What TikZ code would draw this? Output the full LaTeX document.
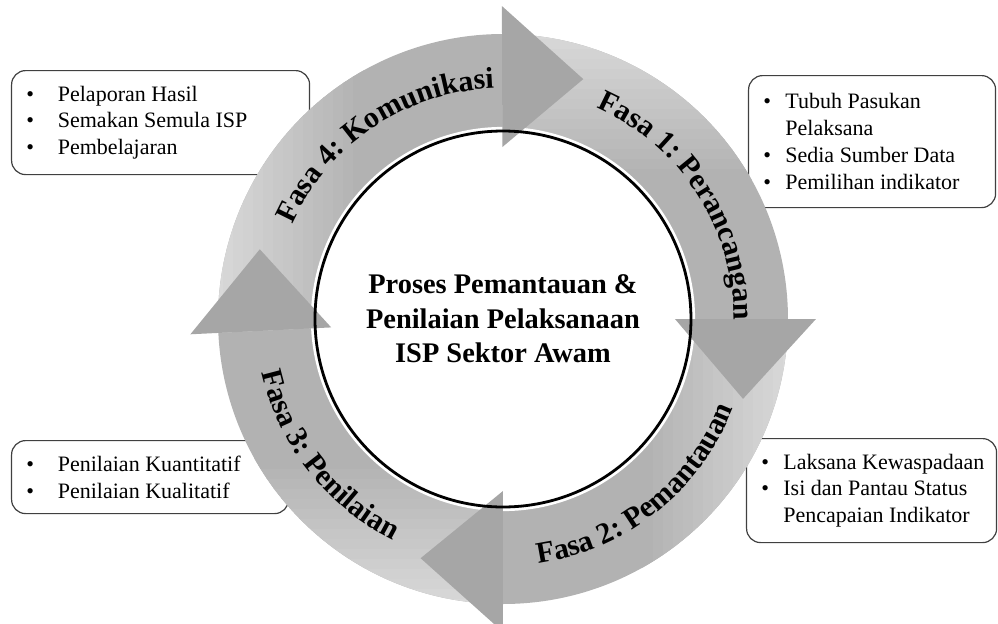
\documentclass[tikz,border=0pt]{standalone}
\usepackage{fontspec}
\setmainfont{Liberation Serif}
\usetikzlibrary{calc, decorations.text}

\colorlet{BadanCerah}{black!15}
\colorlet{BadanGelap}{black!30}
\colorlet{KepalaPanah}{black!35}
\colorlet{GarisKotak}{black!75}

\newcommand{\butir}[1]{\makebox[#1][l]{\textbullet}}
\newcommand{\hurufFasa}{\bfseries\fontsize{15}{18}\selectfont}

\begin{document}
\begin{tikzpicture}[x=0.5pt, y=0.5pt,
    kotak/.style={draw=GarisKotak, line width=0.6pt, fill=white, rounded corners=7pt, inner sep=0pt, anchor=north west},
    senarai/.style={align=left, inner sep=0pt, anchor=west, font=\fontsize{11}{13.4}\selectfont}]

    \useasboundingbox (-503,-304) rectangle (495,319);

    % Teks terpotong di atas
    \node [anchor=base west, inner sep=0pt, font=\fontsize{16}{19}\selectfont] (rujukan) at (-503,328) {dalam Rajah 1.};

    % Kotak penerangan
    \node [kotak, minimum width=149pt, minimum height=52pt] (kotakLapor) at (-492,249) {};
    \node [senarai] (senaraiLapor) at ([xshift=7.5pt]kotakLapor.west)
        {\butir{15.75pt}Pelaporan Hasil\\ \butir{15.75pt}Semakan Semula ISP\\ \butir{15.75pt}Pembelajaran};

    \node [kotak, minimum width=123.5pt, minimum height=66pt] (kotakRancang) at (245,244) {};
    \node [senarai] (senaraiRancang) at ([xshift=7.5pt]kotakRancang.west)
        {\butir{11pt}Tubuh Pasukan\\ \hspace*{11pt}Pelaksana\\ \butir{11pt}Sedia Sumber Data\\ \butir{11pt}Pemilihan indikator};

    \node [kotak, minimum width=138.5pt, minimum height=36.5pt] (kotakNilai) at (-492,-121) {};
    \node [senarai] (senaraiNilai) at ([xshift=7.5pt]kotakNilai.west)
        {\butir{15.75pt}Penilaian Kuantitatif\\ \butir{15.75pt}Penilaian Kualitatif};

    \node [kotak, minimum width=125pt, minimum height=52pt] (kotakPantau) at (243,-119) {};
    \node [senarai] (senaraiPantau) at ([xshift=7.5pt]kotakPantau.west)
        {\butir{11pt}Laksana Kewaspadaan\\ \butir{11pt}Isi dan Pantau Status\\ \hspace*{11pt}Pencapaian Indikator};

    % Bulatan tengah
    \fill [white] (0,0) circle [radius=190];

    % Badan anak panah
    \foreach \ekor/\pangkal/\putar in {182.8/90.2/0, 90.2/0/-90, 0/-90/-180, -90/-177.2/-270} {
        \begin{scope}
            \clip (\ekor:285) arc [start angle=\ekor, end angle=\pangkal, radius=285]
                -- (\pangkal:190) arc [start angle=\pangkal, end angle=\ekor, radius=190] -- cycle;
            \fill [BadanGelap] (-320,-320) rectangle (320,320);
            \begin{scope}[rotate=\putar]
                \foreach \s [evaluate=\s as \p using 100-\s*100/14] in {0,...,14}
                    \fill [BadanCerah!\p!BadanGelap] (-290+\s*10,-320) rectangle (-279+\s*10,320);
            \end{scope}
        \end{scope}
    }

    % Lingkaran putih
    \draw [white, line width=1.4pt] (0,0) circle [radius=190.7];

    % Kepala anak panah
    \foreach \pangkal/\ujung in {90.2/71.5, 0/-18.4, -90/-109, -177.2/-196}
        \fill [KepalaPanah] (\pangkal:172) -- (\pangkal:313) -- (\ujung:253) -- cycle;

    % Garis bulatan
    \draw [black, line width=1.4pt] (0,0) circle [radius=188];

    % Tajuk fasa
    \path [decorate, decoration={text along path, text align=center, text={|\hurufFasa|Fasa 4: Komunikasi}}]
        (174:231) arc [start angle=174, end angle=74, radius=231];
    \path [decorate, decoration={text along path, text align=center, text={|\hurufFasa|Fasa 1: Perancangan}}]
        (83:231) arc [start angle=83, end angle=-17, radius=231];
    \path [decorate, decoration={text along path, text align=center, text={|\hurufFasa|Fasa 2: Pemantauan}}]
        (258.5:247) arc [start angle=258.5, end angle=358.5, radius=247];
    \path [decorate, decoration={text along path, text align=center, text={|\hurufFasa|Fasa 3: Penilaian}}]
        (168:247) arc [start angle=168, end angle=268, radius=247];

    \node [align=center, font=\bfseries\fontsize{14.2}{17.25}\selectfont] (tajuk) at (0,0)
        {Proses Pemantauan \&\\ Penilaian Pelaksanaan\\ ISP Sektor Awam};

\end{tikzpicture}
\end{document}
